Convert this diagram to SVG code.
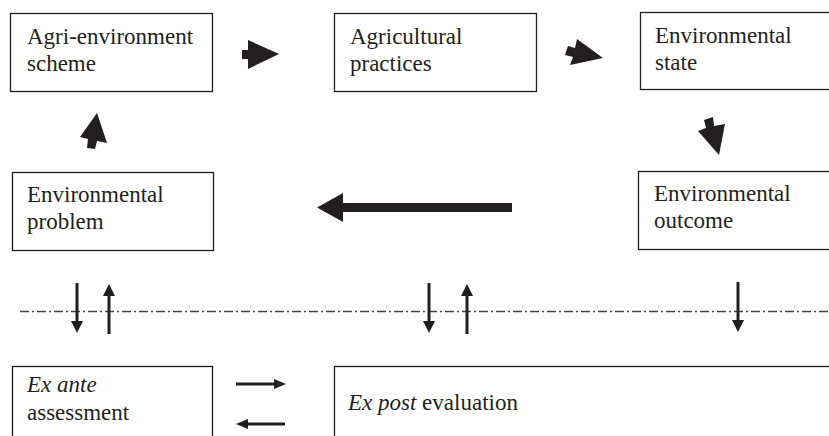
<svg xmlns="http://www.w3.org/2000/svg" width="829" height="436" viewBox="0 0 829 436">
  <style>
    .box { fill: #fff; stroke: #231f20; stroke-width: 1.3; }
    .t { font-family: "Liberation Serif", "Times New Roman", serif; font-size: 23px; fill: #231f20; }
    .it { font-style: italic; }
    .blk { fill: #231f20; stroke: none; }
    .ln { stroke: #231f20; stroke-width: 3; fill: none; }
    .dd { stroke: #444; stroke-width: 1.3; stroke-dasharray: 9 3 2 3; fill: none; }
  </style>
  <rect width="829" height="436" fill="#fff"/>

  <g id="n-scheme">
    <rect class="box" x="10.5" y="13.5" width="202" height="78"/>
    <text class="t" x="27" y="44">Agri-environment</text>
    <text class="t" x="27" y="71">scheme</text>
  </g>
  <g id="n-practices">
    <rect class="box" x="334.5" y="13.5" width="202" height="78"/>
    <text class="t" x="350" y="44">Agricultural</text>
    <text class="t" x="350" y="71">practices</text>
  </g>
  <g id="n-state">
    <rect class="box" x="640.5" y="12.5" width="200" height="77"/>
    <text class="t" x="655" y="43">Environmental</text>
    <text class="t" x="655" y="70">state</text>
  </g>
  <g id="n-problem">
    <rect class="box" x="12.5" y="172.5" width="201" height="78"/>
    <text class="t" x="27" y="202">Environmental</text>
    <text class="t" x="27" y="229">problem</text>
  </g>
  <g id="n-outcome">
    <rect class="box" x="638.5" y="171.5" width="200" height="78"/>
    <text class="t" x="654" y="201">Environmental</text>
    <text class="t" x="654" y="228">outcome</text>
  </g>
  <g id="n-exante">
    <rect class="box" x="12.5" y="366.5" width="200" height="80"/>
    <text class="t it" x="27" y="392">Ex ante</text>
    <text class="t" x="27" y="420">assessment</text>
  </g>
  <g id="n-expost">
    <rect class="box" x="334.5" y="366.5" width="500" height="80"/>
    <text class="t" x="348" y="410"><tspan class="it">Ex post</tspan> evaluation</text>
  </g>

  <line class="dd" x1="20" y1="311.5" x2="829" y2="311.5"/>

  <g id="connectors">
    <polygon class="blk" points="242,50 248,50 248,40 279,54 248,69 248,59 242,59"/>
    <polygon class="blk" points="568,46 575,48 577,39 603,58 570,65 573,57 565,55"/>
    <polygon class="blk" points="704,120 713,117 714,126 725,124 719,155 698,131 706,128"/>
    <polygon class="blk" points="87,148 88,139 80,137 97,113 107,143 97,141 95,149"/>
    <polygon class="blk" points="512,203 343,203 343,193 317,207.5 343,222 343,212 512,212"/>

    <line class="ln" x1="77" y1="283" x2="77" y2="322"/>
    <polygon class="blk" points="71,321 83,321 77,333"/>
    <line class="ln" x1="109" y1="334" x2="109" y2="295"/>
    <polygon class="blk" points="103,296 115,296 109,284"/>

    <line class="ln" x1="429" y1="283" x2="429" y2="322"/>
    <polygon class="blk" points="423,321 435,321 429,333"/>
    <line class="ln" x1="467" y1="334" x2="467" y2="295"/>
    <polygon class="blk" points="461,296 473,296 467,284"/>

    <line class="ln" x1="738" y1="282" x2="738" y2="321"/>
    <polygon class="blk" points="732,320 744,320 738,332"/>

    <line class="ln" x1="236" y1="384" x2="276" y2="384"/>
    <polygon class="blk" points="274,379 274,389 286,384"/>
    <line class="ln" x1="285" y1="424" x2="246" y2="424"/>
    <polygon class="blk" points="248,419 248,429 236,424"/>
  </g>
</svg>
